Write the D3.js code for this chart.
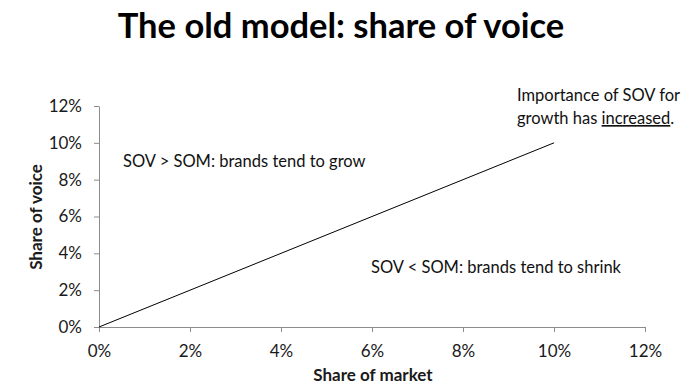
<!DOCTYPE html>
<html>
<head>
<meta charset="utf-8">
<script src="https://cdn.jsdelivr.net/npm/d3@7"></script>
<style>
    html, body { margin: 0; padding: 0; background: #fff; overflow: hidden; }
    svg { display: block; font-family: Lato, "Open Sans", sans-serif; }
</style>
</head>
<body>
<svg id="chart" width="700" height="386" viewBox="0 0 700 386"></svg>
<script>
// data
const xTicks = [0, 0.02, 0.04, 0.06, 0.08, 0.10, 0.12];
const yTicks = [0, 0.02, 0.04, 0.06, 0.08, 0.10, 0.12];
const lineData = [
    { som: 0, sov: 0 },
    { som: 0.10, sov: 0.10 },
];
const titleText = 'The old model: share of voice';
const xAxisLabel = 'Share of market';
const yAxisLabel = 'Share of voice';

const margin = { top: 106, right: 55, bottom: 59, left: 99 };
const width = 700;
const height = 386;
const innerWidth = width - margin.left - margin.right;
const innerHeight = height - margin.top - margin.bottom;

const svg = d3.select('#chart');
const g = svg.append('g').attr('transform', `translate(${margin.left},${margin.top})`);

const xScale = d3.scaleLinear().domain([0, 0.12]).range([0, innerWidth]);
const yScale = d3.scaleLinear().domain([0, 0.12]).range([innerHeight, 0]);
const fmt = d3.format('.0%');

// title
const title = svg.append('text')
    .attr('x', 341)
    .attr('y', 38)
    .attr('text-anchor', 'middle')
    .attr('font-weight', 'bold')
    .attr('font-size', 36)
    .attr('fill', '#000')
    .text(titleText);
// fit title width to the reference
const tw = title.node().getComputedTextLength();
title.attr('font-size', (36 * 446 / tw).toFixed(1));

// axes
const xAxisG = g.append('g')
    .attr('transform', `translate(0,${innerHeight})`)
    .call(d3.axisBottom(xScale).tickValues(xTicks).tickFormat(fmt).tickSize(5).tickSizeOuter(0).tickPadding(13));
const yAxisG = g.append('g')
    .call(d3.axisLeft(yScale).tickValues(yTicks).tickFormat(fmt).tickSize(5).tickSizeOuter(0).tickPadding(12));

[xAxisG, yAxisG].forEach(a => {
    a.attr('font-size', 17).attr('font-family', 'Lato, "Open Sans", sans-serif');
    a.select('.domain').attr('stroke', '#8c8c8c');
    a.selectAll('.tick line').attr('stroke', '#8c8c8c');
    a.selectAll('.tick text').attr('fill', '#1a1a1a');
});

// axis titles
svg.append('text')
    .attr('x', 373)
    .attr('y', 381)
    .attr('text-anchor', 'middle')
    .attr('font-weight', 'bold')
    .attr('font-size', 17)
    .attr('fill', '#1a1a1a')
    .text(xAxisLabel);

svg.append('text')
    .attr('transform', 'translate(42,217) rotate(-90)')
    .attr('text-anchor', 'middle')
    .attr('font-weight', 'bold')
    .attr('font-size', 17)
    .attr('fill', '#1a1a1a')
    .text(yAxisLabel);

// the SOV = SOM line
const lineGenerator = d3.line()
    .x(d => xScale(d.som))
    .y(d => yScale(d.sov));
g.append('path')
    .attr('d', lineGenerator(lineData))
    .attr('fill', 'none')
    .attr('stroke', '#000')
    .attr('stroke-width', 1);

// annotations
const ann = svg.append('g')
    .attr('font-size', 16.5)
    .attr('fill', '#111');

ann.append('text').attr('x', 123).attr('y', 167).text('SOV > SOM: brands tend to grow');
ann.append('text').attr('x', 371).attr('y', 273).text('SOV < SOM: brands tend to shrink');
ann.append('text').attr('x', 517).attr('y', 101).text('Importance of SOV for');
const t2 = ann.append('text').attr('x', 517).attr('y', 124);
t2.append('tspan').text('growth has ');
t2.append('tspan').attr('text-decoration', 'underline').text('increased');
t2.append('tspan').text('.');
</script>
</body>
</html>
